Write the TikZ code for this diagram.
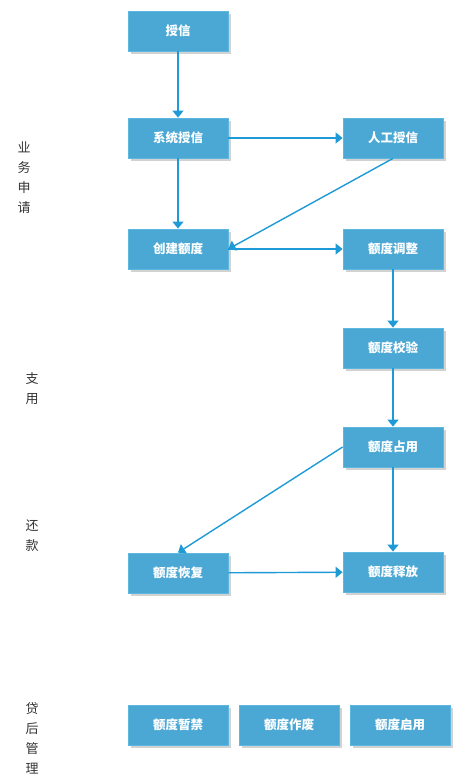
\documentclass[tikz,border=0pt]{standalone}
\usepackage{fontspec}
\setmainfont{Noto Sans CJK SC}
\usetikzlibrary{shadows,arrows.meta}
\definecolor{boxblue}{HTML}{4BA8D4}
\definecolor{boxedge}{HTML}{5DB8E0}
\definecolor{lineblue}{HTML}{1E9AD6}

\begin{document}
\begin{tikzpicture}[
	x = 1pt, y = -1pt,
	box/.style = {minimum width = 100pt, minimum height = 40pt, inner sep = 0pt,
		fill = boxblue, draw = boxedge, line width = 0.8pt, text = white,
		font = \fontsize{12.5}{14}\selectfont\bfseries,
		drop shadow = {shadow xshift = 2.5pt, shadow yshift = -2.5pt, fill = black!25, opacity = 0.7}},
	phase/.style = {align = center, font = \fontsize{13}{20}\selectfont, text = black!80},
	link/.style = {draw = lineblue, line width = 1.4pt, -{Triangle[length = 7pt, width = 11pt]}}
	]
	\useasboundingbox (0,0) rectangle (457,779);
	% phases
	\node[phase] (apply) at (24,178) {业\\务\\申\\请};
	\node[phase] (use) at (32,389) {支\\用};
	\node[phase] (repay) at (32,536) {还\\款};
	\node[phase] (after) at (32,738) {贷\\后\\管\\理};
	% boxes
	\node[box] (credit) at (178,31) {授信};
	\node[box] (syscredit) at (178,138) {系统授信};
	\node[box] (mancredit) at (393,138) {人工授信};
	\node[box] (create) at (178,249) {创建额度};
	\node[box] (adjust) at (393,249) {额度调整};
	\node[box] (check) at (393,348) {额度校验};
	\node[box] (occupy) at (393,447) {额度占用};
	\node[box] (restore) at (178,573) {额度恢复};
	\node[box] (release) at (393,572) {额度释放};
	\node[box] (suspend) at (178,725) {额度暂禁};
	\node[box] (void) at (289,725) {额度作废};
	\node[box] (enable) at (400,725) {额度启用};
	% connectors
	\draw[link] (credit) -- (syscredit);
	\draw[link] (syscredit) -- (mancredit);
	\draw[link] (syscredit) -- (create);
	\draw[link] (mancredit.south) -- (create.east);
	\draw[link] (create) -- (adjust);
	\draw[link] (adjust) -- (check);
	\draw[link] (check) -- (occupy);
	\draw[link] (occupy.west) -- (restore.north);
	\draw[link] (occupy) -- (release);
	\draw[link] (restore) -- (release);
\end{tikzpicture}
\end{document}
